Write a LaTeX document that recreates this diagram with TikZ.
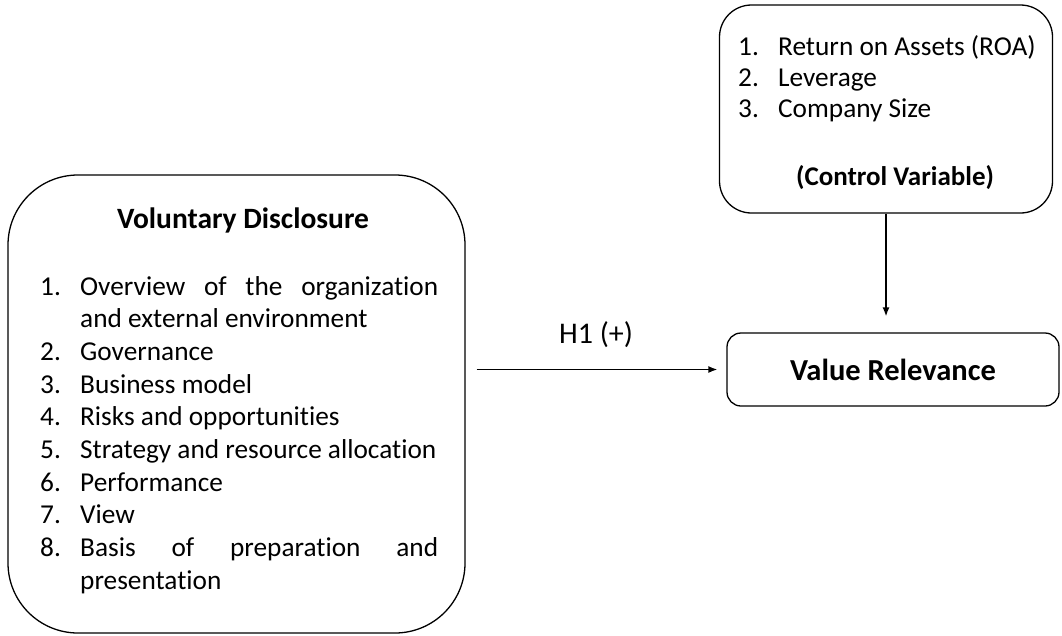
\documentclass[tikz,border=0pt]{standalone}
\usepackage{fontspec}
\setmainfont{Carlito}[Ligatures=NoCommon]
\usetikzlibrary{arrows.meta}
\tikzset{
  box/.style={draw, line width=1.3pt, inner sep=0pt},
  conn/.style={line width=1.4pt, -{Latex[length=9pt,width=7pt]}},
  txt/.style={inner sep=0pt, font=\fontsize{27.3}{32.7}\selectfont},
  btxt/.style={inner sep=0pt, font=\fontsize{29.5}{34}\selectfont\bfseries},
}
\newcommand{\itm}[2]{\hangindent=40pt\hangafter=1\noindent\makebox[40pt][l]{#1}#2\par}
\begin{document}
\begin{tikzpicture}[x=1pt,y=-1pt]
\useasboundingbox (0,0) rectangle (1062,635);
% boxes
\node[box, rounded corners=70pt, minimum width=457pt, minimum height=458pt] (L) at (236.5,404) {};
\node[box, rounded corners=32pt, minimum width=333pt, minimum height=208pt] (C) at (886,109) {};
\node[box, rounded corners=14pt, minimum width=332pt, minimum height=73pt] (V) at (893,369.5) {};
% left text
\node[btxt, anchor=base] (Lt) at (243,228) {Voluntary Disclosure};
\node[txt, anchor=base west] (Ll) at (40,295) {\parbox[t]{398pt}{\baselineskip=32.7pt
\itm{1.}{Overview\hfill of\hfill the\hfill organization\\and external environment}
\itm{2.}{Governance}
\itm{3.}{Business model}
\itm{4.}{Risks and opportunities}
\itm{5.}{Strategy and resource allocation}
\itm{6.}{Performance}
\itm{7.}{View}
\itm{8.}{Basis\hfill of\hfill preparation\hfill and\\presentation}}};
% control text
\node[txt, anchor=base west] (Cl) at (738,55) {\parbox[t]{300pt}{\baselineskip=31pt
\itm{1.}{Return on Assets (ROA)}
\itm{2.}{Leverage}
\itm{3.}{Company Size}}};
\node[btxt, font=\fontsize{27}{32}\selectfont\bfseries, anchor=base] (Ct) at (895,185) {(Control Variable)};
% value relevance
\node[btxt, font=\fontsize{30.5}{34}\selectfont\bfseries] (Vt) at (V) {Value Relevance};
% connectors
\draw[conn, shorten <=11pt, shorten >=9pt] (V.west -| L.east) -- (V.west) coordinate[midway] (m);
\node[txt, font=\fontsize{30}{34}\selectfont, anchor=base] (H) at ([yshift=26pt]m) {H1 (+)};
\draw[conn, shorten >=16pt] (C.south) -- (C.south |- V.north);
\end{tikzpicture}
\end{document}
